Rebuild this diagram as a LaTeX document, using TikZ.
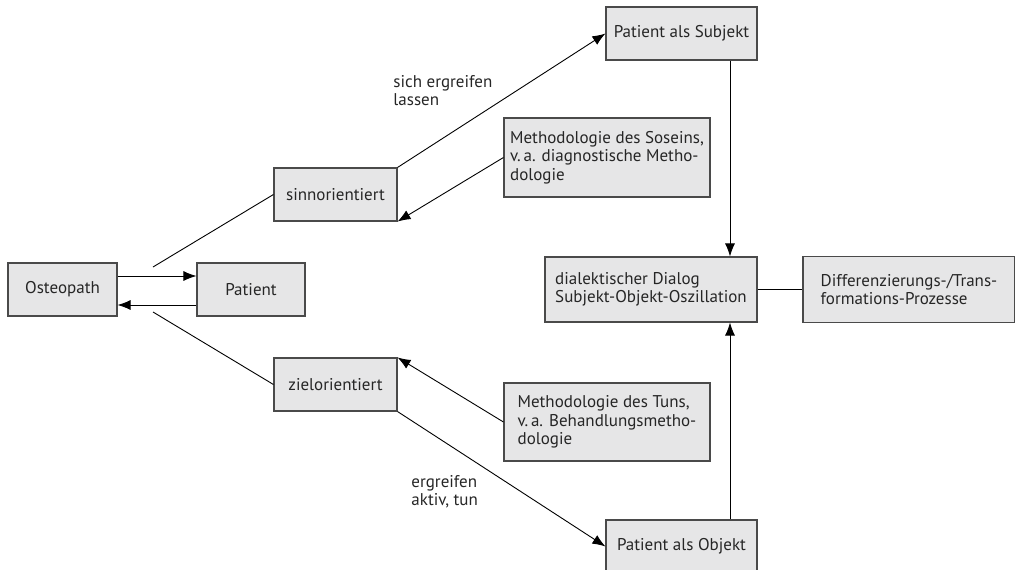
\documentclass[tikz,border=0pt]{standalone}
\usepackage{fontspec}
\setmainfont{PT Sans}
\usepackage{tikz}
\usetikzlibrary{shapes,arrows.meta}
\definecolor{boxfill}{HTML}{E6E6E7}
\definecolor{boxline}{HTML}{4A4A4A}
\definecolor{txt}{HTML}{262626}
\tikzset{
	box/.style    = {draw=boxline, fill=boxfill, line width=1.1pt, rectangle,
		align=left, inner sep=0pt, text=txt,
		font=\fontsize{17}{18.5}\selectfont},
	lbl/.style    = {align=left, inner sep=0pt, text=txt, anchor=north west,
		font=\fontsize{17}{18.5}\selectfont},
	free/.style   = {coordinate} % loose end of a line
}

\begin{document}
\begin{tikzpicture}[x=1pt, y=-1pt, line width=0.9pt, >={Latex[length=13pt,width=10pt]}]
	\useasboundingbox (0,0) rectangle (1015,570);
	\draw
	% left part
	node at (62.5,289.5)[box, minimum width=109, minimum height=53] (osteo) {Osteopath}
	node at (251,289.5)[box, minimum width=108, minimum height=53] (patient) {Patient}
	node at (335.5,194.5)[box, minimum width=123, minimum height=53] (sinn) {sinnorientiert}
	node at (335.5,384.5)[box, minimum width=123, minimum height=53] (ziel) {zielorientiert}
	% methods
	node at (607,157.5)[box, minimum width=206, minimum height=79] (soseins)
		{Methodologie des Soseins,\\v.\,a. diagnostische Metho-\\dologie}
	node at (607,422)[box, minimum width=206, minimum height=78] (tuns)
		{Methodologie des Tuns,\\v.\,a. Behandlungsmetho-\\dologie}
	% right part
	node at (681.5,33.5)[box, minimum width=151, minimum height=53] (subj) {Patient als Subjekt}
	node at (681.5,546.5)[box, minimum width=151, minimum height=53] (obj) {Patient als Objekt}
	node at (651,289.5)[box, minimum width=212, minimum height=65] (dial)
		{dialektischer Dialog\\Subjekt-Objekt-Oszillation}
	node at (909,289.5)[box, minimum width=212, minimum height=66] (diff)
		{Differenzierungs-/Trans-\\formations-Prozesse}
	;
	
	\draw node at (393,75)[lbl] (lassen) {sich ergreifen\\lassen};
	\draw node at (411,475)[lbl] (tun) {ergreifen\\aktiv, tun};
	
	\coordinate (up) at (153,267);
	\coordinate (down) at (153,312);
	\coordinate (sx) at ([xshift=48.5pt]subj.south);
	\coordinate (ox) at ([xshift=48.5pt]obj.north);
	
	\draw[->]([yshift=13.5pt]osteo.east) -- ([yshift=13.5pt]patient.west);
	\draw[->]([yshift=-15.5pt]patient.west) -- ([yshift=-15.5pt]osteo.east);
	\draw(up) -- (sinn.west);
	\draw(down) -- (ziel.west);
	\draw[->](sinn.north east) -- (subj.west);
	\draw[->](soseins.west) -- (sinn.south east);
	\draw[->](tuns.west) -- (ziel.north east);
	\draw[->](ziel.south east) -- (obj.west);
	\draw[->](sx) -- (sx |- dial.north);
	\draw[->](ox) -- (ox |- dial.south);
	\draw(dial.east) -- (diff.west);
\end{tikzpicture}
\end{document}
